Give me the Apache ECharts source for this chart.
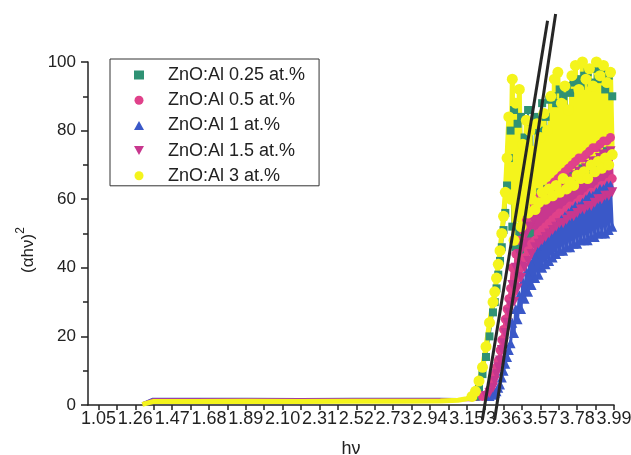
<!DOCTYPE html>
<html>
<head>
<meta charset="utf-8">
<script src="https://cdn.jsdelivr.net/npm/echarts@6/dist/echarts.min.js"></script>
<style>
  html, body { margin: 0; padding: 0; background: #fff; }
  #chart { width: 631px; height: 455px; }
</style>
</head>
<body>
<div id="chart"></div>
<script>
// Photon energy grid (eV): flat sub-gap part, then the absorption edge
const hvLow = [1.30, 1.36, 1.60, 1.90, 2.20, 2.50, 2.80, 3.00, 3.10, 3.15];
const hvEdge = [3.18, 3.20, 3.22, 3.24, 3.26, 3.28, 3.30, 3.31, 3.32, 3.33,
                3.34, 3.35, 3.36, 3.37, 3.38, 3.39, 3.40, 3.41, 3.42, 3.43,
                3.44, 3.45, 3.46, 3.47, 3.48, 3.49, 3.50, 3.51, 3.52, 3.53,
                3.54, 3.55, 3.56, 3.57, 3.58, 3.59, 3.60, 3.61, 3.62, 3.63,
                3.64, 3.65, 3.66, 3.67, 3.68, 3.69, 3.70, 3.71, 3.72, 3.73,
                3.74, 3.75, 3.76, 3.77, 3.78, 3.79, 3.80, 3.81, 3.82, 3.83,
                3.84, 3.85, 3.86, 3.87, 3.88, 3.89, 3.90, 3.91, 3.92, 3.93,
                3.94, 3.95, 3.96, 3.97, 3.98];

const seriesNames = ['ZnO:Al 0.25 at.%', 'ZnO:Al 0.5 at.%', 'ZnO:Al 1 at.%', 'ZnO:Al 1.5 at.%', 'ZnO:Al 3 at.%'];

// (αhν)² for each Al doping level: sub-gap part, then edge part
const al025Low  = [0.2, 1.1, 1.1, 1.2, 1.1, 1.2, 1.2, 1.3, 1.4, 1.5];
const al025Edge = [1.6, 2.5, 5, 9, 14, 20, 27, 30, 34, 38,
                   42, 46, 51, 56, 64, 72, 80, 52, 86, 46,
                   82, 50, 84, 44, 78, 54, 86, 50, 81, 58,
                   84, 60, 80, 62, 88, 61, 84, 63, 89, 62,
                   90, 64, 88, 63, 92, 65, 90, 66, 93, 65,
                   91, 67, 94, 66, 95, 68, 93, 69, 96, 68,
                   97, 70, 94, 71, 98, 70, 95, 72, 98, 73,
                   92, 74, 96, 73, 90];

const al05Low  = [0.3, 1.5, 1.5, 1.6, 1.5, 1.6, 1.6, 1.6, 1.6, 1.6];
const al05Edge = [1.6, 1.7, 2.0, 2.5, 3.0, 4.5, 7, 9, 11, 13,
                  16, 19, 22, 25, 28, 31, 34, 40, 33, 44,
                  37, 48, 40, 51, 43, 54, 45, 56, 47, 58,
                  48, 60, 50, 61, 51, 62, 52, 63, 53, 64,
                  54, 65, 55, 66, 56, 67, 56, 68, 57, 69,
                  58, 70, 58, 71, 59, 72, 60, 72, 60, 73,
                  61, 74, 62, 75, 62, 75, 63, 76, 64, 77,
                  64, 77, 65, 78, 66];

const al1Low  = [0.3, 1.7, 1.7, 1.7, 1.6, 1.7, 1.7, 1.7, 1.6, 1.6];
const al1Edge = [1.6, 1.6, 1.7, 1.9, 2.2, 2.6, 3, 3.5, 4, 5,
                 6, 8, 10, 12, 14, 16, 18, 24, 21, 28,
                 25, 32, 28, 36, 31, 39, 33, 42, 35, 44,
                 37, 46, 38, 48, 40, 49, 41, 50, 42, 51,
                 43, 52, 44, 53, 45, 54, 45, 55, 46, 56,
                 46, 57, 47, 58, 47, 58, 48, 59, 48, 60,
                 48, 61, 49, 61, 49, 62, 50, 63, 50, 63,
                 50, 64, 51, 64, 52];

const al15Low  = [0.3, 1.5, 1.5, 1.5, 1.5, 1.5, 1.5, 1.5, 1.5, 1.5];
const al15Edge = [1.5, 1.6, 1.8, 2.2, 2.6, 3.5, 5, 7, 9, 11,
                  13, 16, 18, 21, 24, 27, 29, 35, 30, 40,
                  34, 44, 37, 47, 40, 50, 42, 52, 44, 54,
                  46, 56, 47, 57, 48, 58, 49, 59, 50, 60,
                  51, 61, 52, 62, 53, 63, 53, 64, 54, 65,
                  55, 66, 55, 67, 56, 68, 57, 68, 57, 69,
                  58, 70, 58, 71, 59, 71, 60, 72, 60, 73,
                  61, 73, 61, 74, 62];

const al3Low  = [0.2, 1.0, 1.0, 1.1, 1.0, 1.1, 1.1, 1.2, 1.4, 1.8];
const al3Edge = [2.5, 4, 7, 11, 17, 24, 30, 33, 37, 41,
                 45, 50, 55, 62, 72, 84, 60, 95, 48, 88,
                 55, 92, 52, 76, 58, 83, 56, 80, 60, 74,
                 57, 82, 59, 78, 62, 85, 60, 80, 63, 90,
                 61, 95, 64, 97, 62, 88, 66, 93, 63, 86,
                 65, 96, 64, 99, 67, 92, 66, 100, 68, 95,
                 66, 98, 70, 93, 68, 100, 71, 96, 69, 99,
                 72, 94, 70, 97, 73];

// Linear extrapolations of the edge used for the band-gap estimate
const tangentA = [[3.239, -4.4], [3.611, 112]];
const tangentB = [[3.309, -4.4], [3.657, 114]];

// Axis tick labels
const hvTickLabels = [1.05, 1.26, 1.47, 1.68, 1.89, 2.10, 2.31, 2.52, 2.73, 2.94, 3.15, 3.36, 3.57, 3.78, 3.99];
const yTickLabels = [0, 20, 40, 60, 80, 100];

const hvAll = hvLow.concat(hvEdge);
const yValues = [
  al025Low.concat(al025Edge),
  al05Low.concat(al05Edge),
  al1Low.concat(al1Edge),
  al15Low.concat(al15Edge),
  al3Low.concat(al3Edge)
];

const looks = [
  { symbol: 'rect',     color: '#2f9274', size: 8,  width: 2 },
  { symbol: 'circle',   color: '#e0418a', size: 9,  width: 3 },
  { symbol: 'triangle', color: '#3a58c8', size: 10, width: 3 },
  { symbol: 'path://M0,0L10,0L5,9Z', color: '#c8378e', size: 10, width: 3 },
  { symbol: 'circle',   color: '#f4f41c', size: 11, width: 5 }
];

// minor ticks half way between labelled ticks
const hvTicks = [];
hvTickLabels.forEach((v, i) => {
  hvTicks.push(v);
  if (i < hvTickLabels.length - 1) hvTicks.push((v + hvTickLabels[i + 1]) / 2);
});

const font = 'Liberation Sans, Arial, sans-serif';

// markers only on the absorption edge; the sub-gap part is drawn as a plain line
const dataSeries = seriesNames.map((name, k) => ({
  name: name,
  type: 'line',
  data: hvAll.map((x, i) => [x, yValues[k][i]]),
  symbol: looks[k].symbol,
  symbolSize: (v) => (v[1] < 2.4 ? 0 : looks[k].size),
  showAllSymbol: true,
  itemStyle: { color: looks[k].color },
  lineStyle: { color: looks[k].color, width: looks[k].width },
  emphasis: { disabled: true },
  animation: false
}));

const tangentSeries = [tangentA, tangentB].map((pts) => ({
  type: 'line',
  data: pts,
  symbol: 'none',
  clip: false,
  silent: true,
  z: 5,
  lineStyle: { color: '#262626', width: 3 },
  animation: false
}));

const chart = echarts.init(document.getElementById('chart'), null, { renderer: 'canvas' });
chart.setOption({
  backgroundColor: '#fff',
  animation: false,
  grid: { left: 88, top: 62, width: 526, height: 343, containLabel: false, outerBoundsMode: 'none' },
  legend: {
    orient: 'vertical',
    left: 110,
    top: 59,
    padding: [7, 14, 1, 24],
    itemWidth: 10,
    itemHeight: 9,
    itemGap: 7.2,
    borderColor: '#333',
    borderWidth: 1,
    selectedMode: false,
    textStyle: { fontFamily: font, fontSize: 18, color: '#222', lineHeight: 12, padding: [0, 0, 0, 19] },
    data: seriesNames.map((n, k) => ({
      name: n,
      icon: looks[k].symbol,
      itemStyle: { color: looks[k].color }
    }))
  },
  xAxis: {
    type: 'value',
    min: 0.99,
    max: 3.99,
    name: 'hν',
    nameLocation: 'middle',
    nameGap: 35,
    nameTextStyle: { fontFamily: font, fontSize: 18, color: '#222' },
    axisLine: { show: true, onZero: false, lineStyle: { color: '#222', width: 1.5 } },
    axisTick: { show: true, length: 5, customValues: hvTicks, lineStyle: { color: '#222', width: 1.5 } },
    axisLabel: {
      customValues: hvTickLabels,
      formatter: (v) => v.toFixed(2),
      margin: 5,
      fontFamily: font, fontSize: 18, color: '#222'
    },
    splitLine: { show: false }
  },
  yAxis: {
    type: 'value',
    min: 0,
    max: 100,
    interval: 20,
    axisLine: { show: true, onZero: false, lineStyle: { color: '#222', width: 1.5 } },
    axisTick: { show: true, length: 7, lineStyle: { color: '#222', width: 1.5 } },
    minorTick: { show: true, splitNumber: 2, length: 5, lineStyle: { color: '#222', width: 1.5 } },
    axisLabel: {
      customValues: yTickLabels,
      margin: 12,
      fontFamily: font, fontSize: 17, color: '#222'
    },
    splitLine: { show: false }
  },
  graphic: [{
    type: 'text',
    x: 26,
    y: 250,
    rotation: Math.PI / 2,
    style: {
      text: '{b|(αhν)}{s|2}',
      align: 'center',
      verticalAlign: 'middle',
      rich: {
        b: { fontFamily: font, fontSize: 17, fill: '#222', lineHeight: 22, verticalAlign: 'bottom' },
        s: { fontFamily: font, fontSize: 12, fill: '#222', lineHeight: 12, verticalAlign: 'top' }
      }
    }
  }],
  series: dataSeries.concat(tangentSeries)
});
</script>
</body>
</html>
